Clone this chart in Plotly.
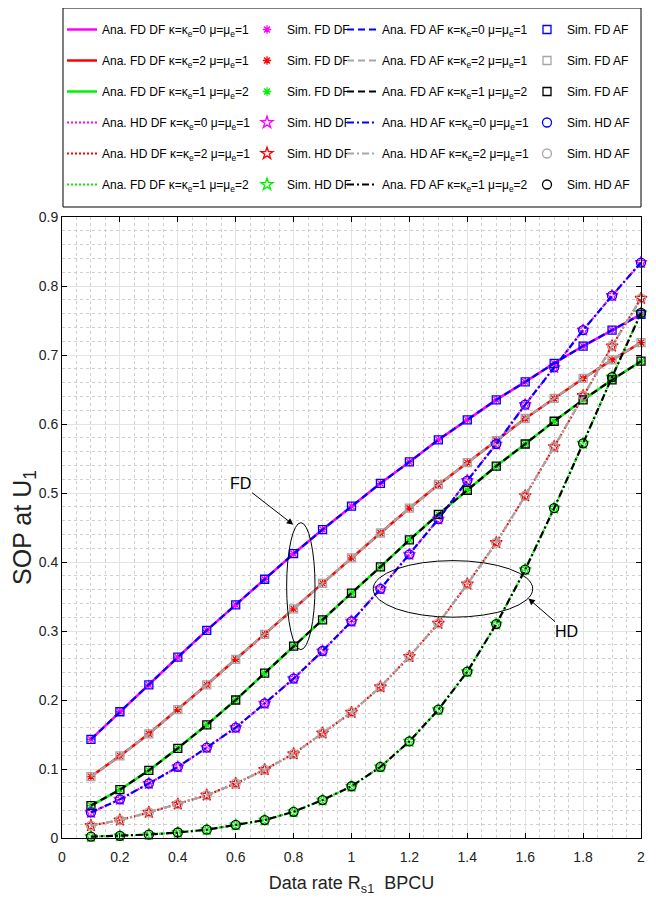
import plotly.graph_objects as go

# ---------------- data ----------------
rate = [0.1, 0.2, 0.3, 0.4, 0.5, 0.6, 0.7, 0.8, 0.9, 1.0,
        1.1, 1.2, 1.3, 1.4, 1.5, 1.6, 1.7, 1.8, 1.9, 2.0]

fd_k0 = [0.143, 0.183, 0.222, 0.262, 0.301, 0.338, 0.375, 0.412, 0.447, 0.481,
         0.514, 0.545, 0.577, 0.606, 0.635, 0.661, 0.688, 0.713, 0.736, 0.759]
fd_k2 = [0.089, 0.119, 0.151, 0.186, 0.222, 0.259, 0.295, 0.332, 0.369, 0.406,
         0.442, 0.478, 0.512, 0.544, 0.576, 0.608, 0.637, 0.666, 0.693, 0.718]
fd_k1 = [0.047, 0.070, 0.098, 0.130, 0.164, 0.200, 0.239, 0.278, 0.316, 0.355,
         0.393, 0.432, 0.469, 0.504, 0.539, 0.571, 0.604, 0.635, 0.664, 0.691]
hd_k0 = [0.037, 0.056, 0.079, 0.103, 0.131, 0.160, 0.195, 0.231, 0.271, 0.314,
         0.361, 0.411, 0.462, 0.518, 0.571, 0.628, 0.682, 0.736, 0.786, 0.834]
hd_k2 = [0.018, 0.026, 0.037, 0.049, 0.062, 0.079, 0.099, 0.122, 0.152, 0.182,
         0.219, 0.263, 0.311, 0.368, 0.428, 0.496, 0.567, 0.641, 0.713, 0.782]
hd_k1 = [0.002, 0.003, 0.005, 0.008, 0.012, 0.019, 0.026, 0.038, 0.055, 0.075,
         0.103, 0.140, 0.186, 0.241, 0.310, 0.389, 0.478, 0.572, 0.668, 0.761]

x_ticks = [0, 0.2, 0.4, 0.6, 0.8, 1, 1.2, 1.4, 1.6, 1.8, 2]
x_tick_labels = ["0", "0.2", "0.4", "0.6", "0.8", "1", "1.2", "1.4", "1.6", "1.8", "2"]
y_ticks = [0, 0.1, 0.2, 0.3, 0.4, 0.5, 0.6, 0.7, 0.8, 0.9]
y_tick_labels = ["0", "0.1", "0.2", "0.3", "0.4", "0.5", "0.6", "0.7", "0.8", "0.9"]

params = [
    "\u03ba=\u03ba<sub>e</sub>=0 \u03bc=\u03bc<sub>e</sub>=1",
    "\u03ba=\u03ba<sub>e</sub>=2 \u03bc=\u03bc<sub>e</sub>=1",
    "\u03ba=\u03ba<sub>e</sub>=1 \u03bc=\u03bc<sub>e</sub>=2",
]

FONT = "Liberation Sans, Arial, sans-serif"
MAG, RED, GRN = "#FF00FF", "#FF0000", "#00F000"
BLU, GRY, BLK = "#0000FF", "#A6A6A6", "#000000"

fig = go.Figure()
uid = [0]


def add(y, name, legend, color, dash=None, width=2.5, symbol=None, msize=8, mode="lines"):
    uid[0] += 1
    kw = dict(x=rate, y=y, name=name, legend=legend, legendgroup="g%d" % uid[0],
              mode=mode, cliponaxis=False, hoverinfo="skip")
    if mode == "lines":
        kw["line"] = dict(color=color, width=width, dash=dash)
    else:
        kw["marker"] = dict(color=color, symbol=symbol, size=msize,
                            line=dict(color=color, width=1.3))
    fig.add_trace(go.Scatter(**kw))


series = [fd_k0, fd_k2, fd_k1]
hseries = [hd_k0, hd_k2, hd_k1]
df_cols = [MAG, RED, GRN]
af_cols = [BLU, GRY, BLK]

# column 1: analytic DF lines
for s, c, p in zip(series, df_cols, params):
    add(s, "Ana. FD DF " + p, "legend", c, dash="solid", width=2.5)
hd_df_names = ["Ana. HD DF ", "Ana. HD DF ", "Ana. FD DF "]
for s, c, p, n in zip(hseries, df_cols, params, hd_df_names):
    add(s, n + p, "legend", c, dash="2px,2px", width=2.2)

# column 2: simulated DF markers
for s, c in zip(series, df_cols):
    add(s, "Sim. FD DF", "legend2", c, symbol="asterisk-open", msize=7, mode="markers")
for s, c in zip(hseries, df_cols):
    add(s, "Sim. HD DF", "legend2", c, symbol="star-open", msize=9, mode="markers")

# column 3: analytic AF lines
for s, c, p in zip(series, af_cols, params):
    add(s, "Ana. FD AF " + p, "legend3", c, dash="7px,4px", width=2.2)
hd_af_names = ["Ana. HD AF ", "Ana. HD AF ", "Ana. FD AF "]
for s, c, p, n in zip(hseries, af_cols, params, hd_af_names):
    add(s, n + p, "legend3", c, dash="7px,3px,2px,3px", width=2.2)

# column 4: simulated AF markers
for s, c in zip(series, af_cols):
    add(s, "Sim. FD AF", "legend4", c, symbol="square-open", msize=8, mode="markers")
for s, c in zip(hseries, af_cols):
    add(s, "Sim. HD AF", "legend4", c, symbol="circle-open", msize=9, mode="markers")

# page has an 8px body margin: shrink the figure so the plot area lands at
# page x 62..641, y 217..838
OFF = 8
W, H = 656 - OFF, 914 - OFF
L, R, T, B = 62 - OFF, 15, 217 - OFF, 76
PW, PH = W - L - R, H - T - B
PX0, PY1 = 62, 838   # page coords of plot origin


def px_x(p):
    return (p - PX0) / PW


def px_y(p):
    return (PY1 - p) / PH


leg_common = dict(font=dict(family=FONT, size=12, color="black"),
                  bgcolor="rgba(0,0,0,0)", borderwidth=0, orientation="v",
                  yanchor="top", xanchor="left", tracegroupgap=12,
                  itemclick=False, itemdoubleclick=False)
ytop = px_y(15)
fig.update_layout(
    legend=dict(x=px_x(62), y=ytop, **leg_common),
    legend2=dict(x=px_x(247), y=ytop, **leg_common),
    legend3=dict(x=px_x(342), y=ytop, **leg_common),
    legend4=dict(x=px_x(527), y=ytop, **leg_common),
)

axis_common = dict(showline=True, linecolor="black", linewidth=1, mirror="ticks",
                   ticks="inside", ticklen=5, tickcolor="black", tickwidth=1,
                   showgrid=True, gridcolor="#e3e3e3", gridwidth=1,
                   zeroline=False, tickfont=dict(family=FONT, size=14, color="#222"))

fig.update_xaxes(range=[0, 2], tickvals=x_ticks, ticktext=x_tick_labels,
                 ticklabelstandoff=6,
                 minor=dict(dtick=0.05, showgrid=True, gridcolor="#cfcfcf",
                            griddash="dot", gridwidth=1),
                 title=dict(text="Data rate R<sub>s1</sub>  BPCU",
                            font=dict(family=FONT, size=18, color="#222"), standoff=12),
                 **axis_common)
fig.update_yaxes(range=[0, 0.9], tickvals=y_ticks, ticktext=y_tick_labels,
                 minor=dict(dtick=0.02, showgrid=True, gridcolor="#cfcfcf",
                            griddash="dot", gridwidth=1),
                 title=dict(text="SOP at U<sub>1</sub>",
                            font=dict(family=FONT, size=25, color="#222"), standoff=6),
                 **axis_common)

# legend box
fig.add_shape(type="rect", xref="paper", yref="paper",
              x0=px_x(63), x1=px_x(641), y0=px_y(207), y1=px_y(8),
              line=dict(color="black", width=1), fillcolor="rgba(0,0,0,0)")

# FD / HD ellipses and arrows
fig.add_shape(type="circle", xref="x", yref="y", x0=0.776, x1=0.874, y0=0.273, y1=0.457,
              line=dict(color="black", width=1))
fig.add_shape(type="circle", xref="x", yref="y", x0=1.075, x1=1.626, y0=0.320, y1=0.402,
              line=dict(color="black", width=1))
fig.add_annotation(x=0.799, y=0.454, ax=0.615, ay=0.514, axref="x", ayref="y",
                   text="FD", showarrow=True, arrowhead=2, arrowsize=1.3, arrowwidth=1,
                   arrowcolor="black", font=dict(family=FONT, size=16, color="black"))
fig.add_annotation(x=1.611, y=0.347, ax=1.743, ay=0.299, axref="x", ayref="y",
                   text="HD", showarrow=True, arrowhead=2, arrowsize=1.3, arrowwidth=1,
                   arrowcolor="black", font=dict(family=FONT, size=16, color="black"))

fig.update_layout(width=W, height=H,
                  margin=dict(l=L, r=R, t=T, b=B, autoexpand=False),
                  plot_bgcolor="white", paper_bgcolor="white",
                  font=dict(family=FONT, color="black"))

fig.write_html("out.html")
